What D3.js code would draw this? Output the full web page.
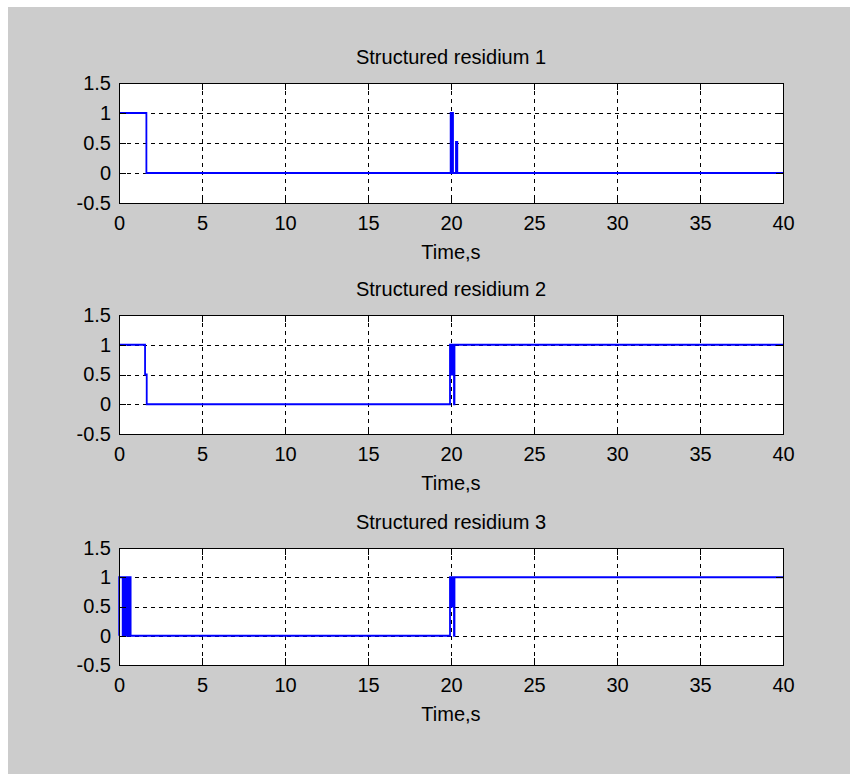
<!DOCTYPE html>
<html>
<head>
<meta charset="utf-8">
<script src="https://cdn.jsdelivr.net/npm/d3@7"></script>
<style>
  html, body { margin: 0; padding: 0; background: #ffffff; }
  svg { display: block; }
  text { font-family: "Liberation Sans", Arial, sans-serif; fill: #000; }
</style>
</head>
<body>
<svg id="chart" width="850" height="774"></svg>
<script>
// ---- data (switch times in s, value held until next time) ----
const xTicks = [0, 5, 10, 15, 20, 25, 30, 35, 40];
const yTicks = [-0.5, 0, 0.5, 1, 1.5];
const yTickLabels = ["-0.5", "0", "0.5", "1", "1.5"];
const titles = ["Structured residium 1", "Structured residium 2", "Structured residium 3"];
const xLabel = "Time,s";

const r1Time  = [0, 1.65, 19.98, 20.02, 20.08, 20.12, 20.30, 20.38, 40];
const r1Value = [1, 0,    1,     0,     1,     0,     0.52,  0,     0];

const r2Time  = [0, 1.57, 1.67, 19.94, 19.96, 19.98, 20.00, 20.02, 20.04, 20.06, 20.08, 20.10, 20.12, 20.14, 20.16, 20.18, 20.21, 40];
const r2Value = [1, 0.5,  0,    1,     0.5,   1,     0.5,   1,     0.5,   1,     0.5,   1,     0.5,   1,     0.5,   0,     1,     1];

const r3Time  = [0, 0.01, 0.22, 0.24, 0.26, 0.28, 0.30, 0.32, 0.34, 0.36, 0.38, 0.40, 0.42, 0.44, 0.46, 0.48, 0.50, 0.52, 0.54, 0.56, 0.58, 0.60, 0.62, 0.64, 0.66, 0.68, 0.70, 0.72,
                 19.94, 19.96, 19.98, 20.00, 20.02, 20.04, 20.06, 20.08, 20.10, 20.12, 20.14, 20.16, 20.18, 20.21, 40];
const r3Value = [0, 1,    0,    1,    0,    1,    0,    1,    0,    1,    0,    1,    0,    1,    0,    1,    0,    1,    0,    1,    0,    1,    0,    1,    0,    1,    0,    0,
                 1,     0.5,   1,     0.5,   1,     0.5,   1,     0.5,   1,     0.5,   1,     0.5,   0,     1,     1];

const series = [
  {t: r1Time, v: r1Value},
  {t: r2Time, v: r2Value},
  {t: r3Time, v: r3Value}
];

// ---- layout ----
const svg = d3.select("#chart");
svg.append("rect").attr("x", 8).attr("y", 7).attr("width", 842).attr("height", 767).attr("fill", "#cccccc");

const left = 119, right = 783;
const panels = [
  {top: 83,  bottom: 203},
  {top: 315, bottom: 434},
  {top: 548, bottom: 665}
];
const x = d3.scaleLinear().domain([0, 40]).range([left, right]);
const fs = 20;
const tickLen = 7;

panels.forEach((p, i) => {
  const y = d3.scaleLinear().domain([-0.5, 1.5]).range([p.bottom, p.top]);
  const g = svg.append("g");

  // plot background
  g.append("rect").attr("x", left).attr("y", p.top)
    .attr("width", right - left).attr("height", p.bottom - p.top).attr("fill", "#ffffff");

  // grid
  g.selectAll(".gx").data(xTicks.slice(1, -1)).join("line")
    .attr("x1", d => Math.round(x(d)) + 0.5).attr("x2", d => Math.round(x(d)) + 0.5)
    .attr("y1", p.top).attr("y2", p.bottom)
    .attr("stroke", "#000").attr("stroke-width", 1).attr("stroke-dasharray", "4,4")
    .attr("shape-rendering", "crispEdges");
  g.selectAll(".gy").data(yTicks.slice(1, -1)).join("line")
    .attr("x1", left).attr("x2", right)
    .attr("y1", d => Math.round(y(d)) + 0.5).attr("y2", d => Math.round(y(d)) + 0.5)
    .attr("stroke", "#000").attr("stroke-width", 1).attr("stroke-dasharray", "4,4")
    .attr("shape-rendering", "crispEdges");

  // data line
  const s = series[i];
  const pts = s.t.map((t, k) => [t, s.v[k]]);
  const line = d3.line().x(d => x(d[0])).y(d => y(d[1])).curve(d3.curveStepAfter);
  g.append("path").attr("d", line(pts)).attr("fill", "none")
    .attr("stroke", "#0000ff").attr("stroke-width", 1.8);

  // axes box
  g.append("rect").attr("x", left + 0.5).attr("y", p.top + 0.5)
    .attr("width", right - left).attr("height", p.bottom - p.top)
    .attr("fill", "none").attr("stroke", "#000").attr("stroke-width", 1.3)
    .attr("shape-rendering", "crispEdges");

  // ticks inside
  const xAxisB = d3.axisBottom(x).tickValues(xTicks).tickSize(-tickLen).tickPadding(tickLen + 6).tickFormat(d3.format("d"));
  const gxb = g.append("g").attr("transform", `translate(0,${p.bottom})`).call(xAxisB);
  const xAxisT = d3.axisTop(x).tickValues(xTicks).tickSize(-tickLen).tickFormat("");
  const gxt = g.append("g").attr("transform", `translate(0,${p.top})`).call(xAxisT);
  const yAxisL = d3.axisLeft(y).tickValues(yTicks).tickSize(-tickLen).tickPadding(8)
    .tickFormat((d, k) => yTickLabels[k]);
  const gyl = g.append("g").attr("transform", `translate(${left},0)`).call(yAxisL);
  const yAxisR = d3.axisRight(y).tickValues(yTicks).tickSize(-tickLen).tickFormat("");
  const gyr = g.append("g").attr("transform", `translate(${right},0)`).call(yAxisR);

  [gxb, gxt, gyl, gyr].forEach(a => {
    a.select(".domain").remove();
    a.selectAll(".tick line").attr("stroke", "#000").attr("stroke-width", 1)
      .attr("shape-rendering", "crispEdges");
    a.selectAll(".tick text").attr("font-size", fs)
      .attr("font-family", "'Liberation Sans', Arial, sans-serif").attr("fill", "#000");
  });

  // title
  g.append("text").attr("x", (left + right) / 2).attr("y", p.top - 19)
    .attr("text-anchor", "middle").attr("font-size", fs).text(titles[i]);
  // xlabel
  g.append("text").attr("x", (left + right) / 2).attr("y", p.bottom + 56)
    .attr("text-anchor", "middle").attr("font-size", fs).text(xLabel);
});
</script>
</body>
</html>
